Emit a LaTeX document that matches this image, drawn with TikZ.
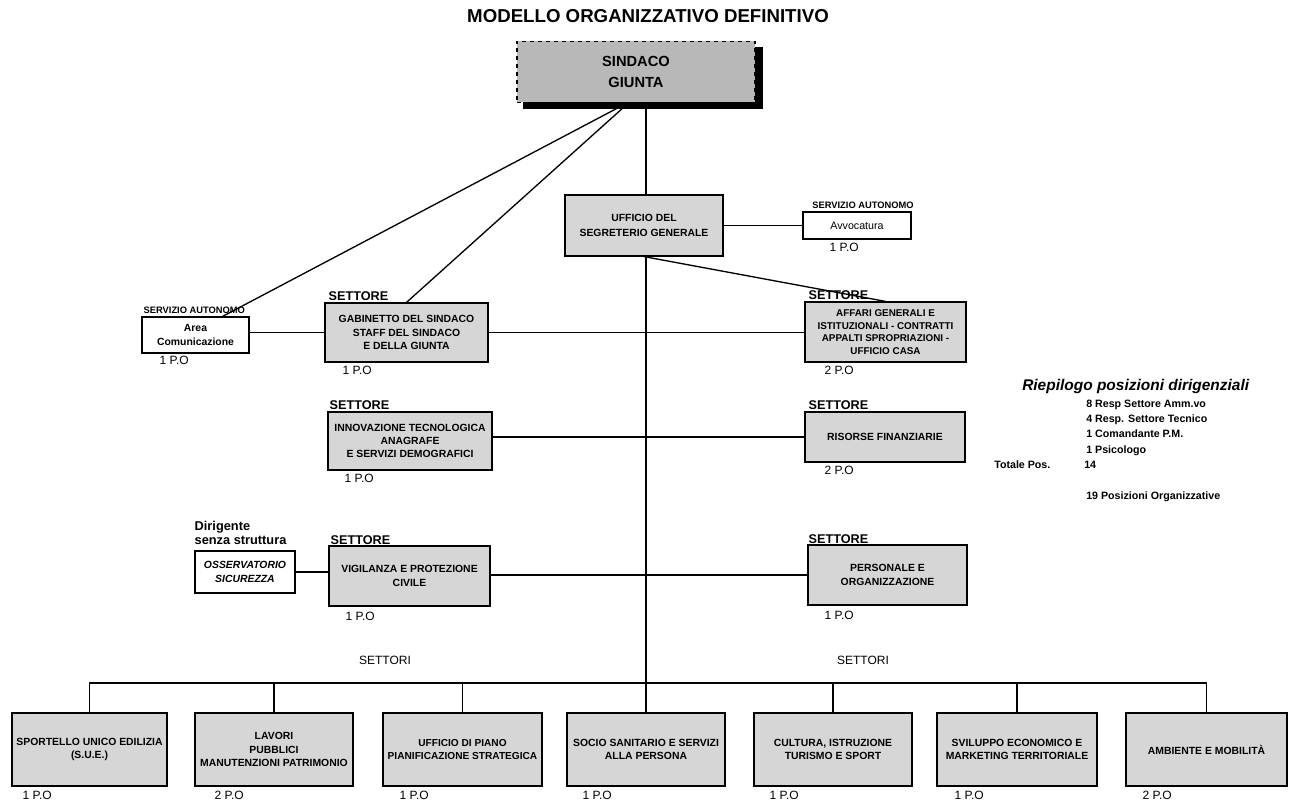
\documentclass[tikz,border=0pt]{standalone}
\usepackage{fontspec}
\setmainfont{Liberation Sans}
\usetikzlibrary{calc,backgrounds}
\begin{document}
\begin{tikzpicture}[x=0.75pt,y=-0.75pt,
  box/.style 2 args={draw=black, line width=0.9pt, fill=black!16,
    minimum width=#1*0.75pt, minimum height=#2*0.75pt, inner sep=0pt,
    align=center, font=\fontsize{7.8}{10}\selectfont\bfseries},
  wbox/.style 2 args={draw=black, line width=0.9pt, fill=white,
    minimum width=#1*0.75pt, minimum height=#2*0.75pt, inner sep=0pt,
    align=center, font=\fontsize{7.8}{10}\selectfont\bfseries},
  conn/.style={draw=black, line width=1pt},
  po/.style={anchor=north west, inner sep=0pt, font=\fontsize{9}{10}\selectfont},
  sect/.style={anchor=south west, inner sep=0pt, font=\fontsize{9.5}{11}\selectfont\bfseries},
  svc/.style={inner sep=0pt, font=\fontsize{7}{8}\selectfont\bfseries},
  txt/.style={anchor=base west, inner sep=0pt, font=\fontsize{8}{10}\selectfont\bfseries}
]
\useasboundingbox (0,0) rectangle (1295,805);

% title
\node[inner sep=0pt, font=\fontsize{14}{16}\selectfont\bfseries] (title) at (648,16) {MODELLO ORGANIZZATIVO DEFINITIVO};

% top
\node[draw=black, dashed, line width=1pt, fill=black!28, minimum width=238*0.75pt, minimum height=61*0.75pt,
  inner sep=0pt, align=center, font=\fontsize{11}{16}\selectfont\bfseries] (sind) at (636,72) {SINDACO\\GIUNTA};

\node[box={158}{61}, font=\fontsize{7.8}{11.5}\selectfont\bfseries] (seg) at (644,225.5) {UFFICIO DEL\\SEGRETERIO GENERALE};
\node[wbox={108}{27}, font=\fontsize{8}{10}\selectfont] (avv) at (857,225.5) {Avvocatura};
\node[svc, anchor=south] (avvL) at ($(avv.north)+(6,-3)$) {SERVIZIO AUTONOMO};
\node[po] (avvP) at ($(avv.south west)+(27,3)$) {1 P.O};

% row 1
\node[wbox={107}{36}, font=\fontsize{7.8}{10}\selectfont\bfseries] (areac) at (195.5,335) {Area\\Comunicazione};
\node[svc, anchor=south west] (areacL) at ($(areac.north west)+(2,-3)$) {SERVIZIO AUTONOMO};
\node[po] (areacP) at ($(areac.south west)+(18,2)$) {1 P.O};

\node[box={163}{59}] (gab) at (406.5,332.5) {GABINETTO DEL SINDACO\\STAFF DEL SINDACO\\E DELLA GIUNTA};
\node[sect] (gabL) at ($(gab.north west)+(4,-2)$) {SETTORE};
\node[po] (gabP) at ($(gab.south west)+(18,3)$) {1 P.O};

\node[box={161}{60}, font=\fontsize{7.4}{9.5}\selectfont\bfseries] (aff) at (885.5,332) {AFFARI GENERALI  E\\ISTITUZIONALI  - CONTRATTI\\APPALTI SPROPRIAZIONI -\\UFFICIO CASA};
\node[sect] (affL) at ($(aff.north west)+(4,-2)$) {SETTORE};
\node[po] (affP) at ($(aff.south west)+(20,3)$) {2 P.O};

% row 2
\node[box={164}{58}] (inn) at (410,441) {INNOVAZIONE TECNOLOGICA\\ANAGRAFE\\E SERVIZI DEMOGRAFICI};
\node[sect] (innL) at ($(inn.north west)+(2,-2)$) {SETTORE};
\node[po] (innP) at ($(inn.south west)+(17,3)$) {1 P.O};

\node[box={160}{50}] (ris) at (885,437) {RISORSE FINANZIARIE};
\node[sect] (risL) at ($(ris.north west)+(4,-2)$) {SETTORE};
\node[po] (risP) at ($(ris.south west)+(20,3)$) {2 P.O};

% row 3
\node[wbox={100}{42}, font=\fontsize{7.8}{10}\selectfont\bfseries\itshape] (oss) at (245,572) {OSSERVATORIO\\SICUREZZA};
\node[inner sep=0pt, anchor=south west, align=left, font=\fontsize{9.6}{10}\selectfont\bfseries] (ossL) at ($(oss.north west)+(0,-6)$) {Dirigente\\senza struttura};

\node[box={161}{60}] (vig) at (409.5,576) {VIGILANZA E PROTEZIONE\\CIVILE};
\node[sect] (vigL) at ($(vig.north west)+(2,-1)$) {SETTORE};
\node[po] (vigP) at ($(vig.south west)+(17,5)$) {1 P.O};

\node[box={159}{60}] (per) at (887.5,575) {PERSONALE E\\ORGANIZZAZIONE};
\node[sect] (perL) at ($(per.north west)+(1,-1)$) {SETTORE};
\node[po] (perP) at ($(per.south west)+(17,5)$) {1 P.O};

% settori labels
\node[inner sep=0pt, font=\fontsize{9}{10}\selectfont] (set1) at (385,660) {SETTORI};
\node[inner sep=0pt, font=\fontsize{9}{10}\selectfont] (set2) at (863,660) {SETTORI};

% bottom row
\node[box={155}{73}] (b1) at (89.5,749.5) {SPORTELLO UNICO EDILIZIA\\(S.U.E.)};
\node[box={158}{73}] (b2) at (274,749.5) {LAVORI\\PUBBLICI\\MANUTENZIONI PATRIMONIO};
\node[box={159}{73}, font=\fontsize{7.6}{10}\selectfont\bfseries] (b3) at (462.5,749.5) {UFFICIO DI PIANO\\PIANIFICAZIONE  STRATEGICA};
\node[box={158}{73}] (b4) at (646,749.5) {SOCIO SANITARIO E SERVIZI\\ALLA PERSONA};
\node[box={158}{73}] (b5) at (833,749.5) {CULTURA,  ISTRUZIONE\\TURISMO E SPORT};
\node[box={160}{73}] (b6) at (1017,749.5) {SVILUPPO ECONOMICO  E\\MARKETING TERRITORIALE};
\node[box={161}{73}] (b7) at (1206.5,749.5) {AMBIENTE E MOBILITÀ};
\node[po] (b1P) at ($(b1.south west)+(11,4)$) {1 P.O};
\node[po] (b2P) at ($(b2.south west)+(20,4)$) {2 P.O};
\node[po] (b3P) at ($(b3.south west)+(17,4)$) {1 P.O};
\node[po] (b4P) at ($(b4.south west)+(16,4)$) {1 P.O};
\node[po] (b5P) at ($(b5.south west)+(16,4)$) {1 P.O};
\node[po] (b6P) at ($(b6.south west)+(18,4)$) {1 P.O};
\node[po] (b7P) at ($(b7.south west)+(17,4)$) {2 P.O};

% summary
\node[txt, font=\fontsize{11.6}{13}\selectfont\bfseries\itshape] (rt) at (1022,390) {Riepilogo posizioni dirigenziali};
\node[txt] (r1) at (1086,407) {8 Resp Settore Amm.vo};
\node[txt] (r2) at (1086,422) {4 Resp. Settore Tecnico};
\node[txt] (r3) at (1086,437) {1 Comandante P.M.};
\node[txt] (r4) at (1086,453) {1 Psicologo};
\node[txt] (r5) at (994,468) {Totale Pos.};
\node[txt] (r6) at (1084,468) {14};
\node[txt] (r7) at (1086,499) {19 Posizioni Organizzative};

\coordinate (bus) at (646,683);

\begin{pgfonlayer}{background}
  % shadow of SINDACO
  \fill[black] ($(sind.north west)+(7,6)$) rectangle ($(sind.south east)+(7,6)$);
  % main spine
  \draw[conn] (b4.north |- sind.south) -- (b4.north);
  % diagonals
  \draw[conn] ($(sind.south)+(-13,2)$) -- ($(areac.north west)!0.75!(areac.north east)$);
  \draw[conn] ($(sind.south)+(-10,2)$) -- (gab.north);
  \draw[conn] (seg.south) -- (aff.north);
  % horizontals
  \draw[conn] (seg.east) -- (avv.west);
  \draw[conn] (gab.west) -- (gab.west -| areac.east);
  \draw[conn] (gab.east) -- (gab.east -| aff.west);
  \draw[conn] (ris.west) -- (ris.west -| inn.east);
  \draw[conn] (per.west) -- (per.west -| vig.east);
  \draw[conn] (oss.east) -- (oss.east -| vig.west);
  % bus
  \draw[conn] (b1.north) |- (bus) -| (b7.north);
  \draw[conn] (b2.north) -- (b2.north |- bus);
  \draw[conn] (b3.north) -- (b3.north |- bus);
  \draw[conn] (b5.north) -- (b5.north |- bus);
  \draw[conn] (b6.north) -- (b6.north |- bus);
\end{pgfonlayer}
\end{tikzpicture}
\end{document}
